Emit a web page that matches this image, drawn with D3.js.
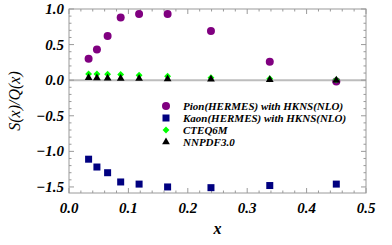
<!DOCTYPE html>
<html>
<head>
<meta charset="utf-8">
<script src="https://cdn.jsdelivr.net/npm/d3@7"></script>
<style>
  body { margin: 0; background: #fff; }
</style>
</head>
<body>
<div id="chart"></div>
<script>
// x bins
var xVals = [0.033, 0.047, 0.065, 0.087, 0.118, 0.166, 0.239, 0.338, 0.450];
// series
var pionVals = [0.30, 0.43, 0.62, 0.88, 0.93, 0.93, 0.69, 0.26, -0.02];
var kaonVals = [-1.11, -1.22, -1.30, -1.43, -1.46, -1.50, -1.51, -1.48, -1.46];
var cteqVals = [0.088, 0.087, 0.085, 0.080, 0.070, 0.055, 0.035, 0.020, 0.005];
var nnpdfVals = [0.035, 0.030, 0.028, 0.025, 0.022, 0.018, 0.012, 0.005, -0.002];
var xTicks = [0.0, 0.1, 0.2, 0.3, 0.4, 0.5];
var yTicks = [-1.5, -1.0, -0.5, 0.0, 0.5, 1.0];
var legendLabels = ['Pion(HERMES) with HKNS(NLO)', 'Kaon(HERMES) with HKNS(NLO)', 'CTEQ6M', 'NNPDF3.0'];

var width = 392, height = 245;
var margin = {top: 9, right: 26, bottom: 52, left: 69};
var frameCol = '#9a9a9a';
var serif = "'Liberation Serif', 'Times New Roman', Times, serif";

var svg = d3.select('#chart').append('svg')
  .attr('width', width)
  .attr('height', height)
  .attr('font-family', serif);

var xScale = d3.scaleLinear().domain([0, 0.5]).range([margin.left, width - margin.right]);
var yScale = d3.scaleLinear().domain([-1.585, 1.0]).range([height - margin.bottom, margin.top]);

var x0 = xScale.range()[0], x1 = xScale.range()[1];
var y0 = yScale.range()[0], y1 = yScale.range()[1];

// zero line
svg.append('line')
  .attr('x1', x0).attr('x2', x1)
  .attr('y1', yScale(0)).attr('y2', yScale(0))
  .attr('stroke', '#bdbdbd').attr('stroke-width', 2);

// frame
svg.append('rect')
  .attr('x', x0).attr('y', y1)
  .attr('width', x1 - x0).attr('height', y0 - y1)
  .attr('fill', 'none').attr('stroke', frameCol).attr('stroke-width', 1);

// ticks (inward, mathematica style)
var ticks = svg.append('g').attr('stroke', frameCol).attr('stroke-width', 1);
d3.range(0, 0.5001, 0.02).forEach(function (v) {
  var major = Math.abs(v * 10 - Math.round(v * 10)) < 1e-6;
  var len = major ? 5 : 2.5;
  var px = xScale(v);
  ticks.append('line').attr('x1', px).attr('x2', px).attr('y1', y0).attr('y2', y0 - len);
  ticks.append('line').attr('x1', px).attr('x2', px).attr('y1', y1).attr('y2', y1 + len);
});
d3.range(-1.5, 1.0001, 0.1).forEach(function (v) {
  var major = Math.abs(v * 2 - Math.round(v * 2)) < 1e-6;
  var len = major ? 5 : 2.5;
  var py = yScale(v);
  ticks.append('line').attr('x1', x0).attr('x2', x0 + len).attr('y1', py).attr('y2', py);
  ticks.append('line').attr('x1', x1).attr('x2', x1 - len).attr('y1', py).attr('y2', py);
});

// tick labels
svg.selectAll('.xlab').data(xTicks).enter().append('text')
  .attr('x', function (d) { return xScale(d); })
  .attr('y', y0 + 20)
  .attr('text-anchor', 'middle')
  .attr('font-family', serif)
  .style('font-size', '15px').style('font-weight', 'bold').style('font-style', 'italic')
  .text(function (d) { return d.toFixed(1); });

svg.selectAll('.ylab').data(yTicks).enter().append('text')
  .attr('x', x0 - 5)
  .attr('y', function (d) { return yScale(d) + 5; })
  .attr('text-anchor', 'end')
  .attr('font-family', serif)
  .style('font-size', '15px').style('font-weight', 'bold').style('font-style', 'italic')
  .text(function (d) { return (d < 0 ? '\u2212' : '') + Math.abs(d).toFixed(1); });

// axis titles
svg.append('text')
  .attr('x', (x0 + x1) / 2)
  .attr('y', 234)
  .attr('text-anchor', 'middle')
  .attr('font-family', serif)
  .style('font-size', '16px').style('font-weight', 'bold').style('font-style', 'italic')
  .text('x');

svg.append('text')
  .attr('transform', 'translate(20,' + ((y0 + y1) / 2) + ') rotate(-90)')
  .attr('text-anchor', 'middle')
  .attr('font-family', serif)
  .style('font-size', '16px').style('font-style', 'italic')
  .text('S(x)/Q(x)');

// data
var pts = svg.append('g');
pts.selectAll('.pion').data(xVals).enter().append('circle')
  .attr('cx', function (d) { return xScale(d); })
  .attr('cy', function (d, i) { return yScale(pionVals[i]); })
  .attr('r', 4).attr('fill', '#800080');

pts.selectAll('.kaon').data(xVals).enter().append('rect')
  .attr('x', function (d) { return xScale(d) - 3.5; })
  .attr('y', function (d, i) { return yScale(kaonVals[i]) - 3.5; })
  .attr('width', 7).attr('height', 7).attr('fill', '#000080');

var diamond = d3.symbol().type(d3.symbolDiamond2).size(30);
var tri = d3.symbol().type(d3.symbolTriangle).size(26);

pts.selectAll('.cteq').data(xVals).enter().append('path')
  .attr('d', diamond)
  .attr('transform', function (d, i) { return 'translate(' + xScale(d) + ',' + yScale(cteqVals[i]) + ')'; })
  .attr('fill', '#00ff00');

pts.selectAll('.nnpdf').data(xVals).enter().append('path')
  .attr('d', tri)
  .attr('transform', function (d, i) { return 'translate(' + xScale(d) + ',' + yScale(nnpdfVals[i]) + ')'; })
  .attr('fill', '#000');

// legend
var leg = svg.append('g').attr('transform', 'translate(166,106)');
var legSym = [
  function (g) { g.append('circle').attr('r', 4).attr('fill', '#800080'); },
  function (g) { g.append('rect').attr('x', -3.5).attr('y', -3.5).attr('width', 7).attr('height', 7).attr('fill', '#000080'); },
  function (g) { g.append('path').attr('d', diamond).attr('fill', '#00ff00'); },
  function (g) { g.append('path').attr('d', tri).attr('fill', '#000'); }
];
legendLabels.forEach(function (lab, i) {
  var row = leg.append('g').attr('transform', 'translate(0,' + (i * 12) + ')');
  legSym[i](row);
  row.append('text')
    .attr('x', 17).attr('y', 4)
    .attr('font-family', serif)
    .style('font-size', '11px').style('font-weight', 'bold').style('font-style', 'italic')
    .text(lab);
});
</script>
</body>
</html>
